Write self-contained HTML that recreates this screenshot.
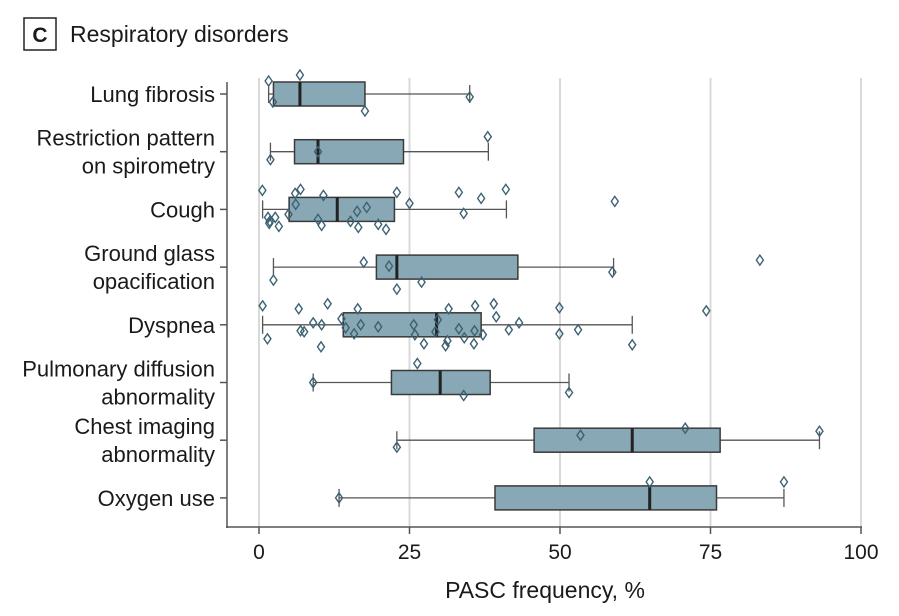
<!DOCTYPE html>
<html><head><meta charset="utf-8"><style>
body{margin:0;background:#fff;font-family:"Liberation Sans",sans-serif}
svg text{font-family:"Liberation Sans",sans-serif;fill:#1a1a1a}
</style></head><body>
<svg width="899" height="611" viewBox="0 0 899 611">
<rect x="24" y="18" width="32" height="32" fill="none" stroke="#222" stroke-width="1.5"/>
<text x="40" y="42" font-size="21" font-weight="bold" text-anchor="middle">C</text>
<text x="70" y="42" font-size="23">Respiratory disorders</text>
<g id="grid"></g><g id="axes"></g><g id="plot"></g>
<text x="545" y="598" font-size="23" text-anchor="middle">PASC frequency, %</text>
</svg>
<script>
const categories=[["Lung fibrosis"],["Restriction pattern","on spirometry"],["Cough"],["Ground glass","opacification"],["Dyspnea"],["Pulmonary diffusion","abnormality"],["Chest imaging","abnormality"],["Oxygen use"]];
const whiskerLow=[1.6,1.9,0.6,2.4,0.6,9.0,22.9,13.3];
const q1=[2.4,5.9,5.0,19.5,14.0,22.0,45.7,39.2];
const medians=[6.8,9.8,13.0,22.9,29.5,30.1,62.0,64.9];
const q3=[17.6,24.0,22.5,43.0,36.9,38.4,76.6,76.0];
const whiskerHigh=[35,38.1,41.1,58.9,62.0,51.5,93.1,87.2];
const points=[
[[1.6,-13],[6.8,-19],[2.3,8],[17.6,17],[35,3]],
[[38,-15],[1.9,8],[9.8,0]],
[[0.56,-19],[6.0,-16],[6.9,-20],[10.7,-14],[22.9,-17],[33.2,-17],[36.9,-11],[41.0,-20],[59.1,-8],[6.1,-5],[25.0,-6],[17.9,-2],[16.3,2],[34.0,4],[4.9,5],[1.5,8],[2.7,8],[1.7,14],[3.3,17],[9.8,10],[10.4,16],[15.2,12],[16.5,18],[19.8,15],[21.1,20],[1.8,12]],
[[17.4,-5],[21.6,-1],[58.7,5],[2.4,13],[27.0,15],[22.9,22],[83.2,-7]],
[[0.6,-19],[6.6,-16],[11.4,-21],[16.4,-16],[31.5,-16],[35.9,-19],[39.0,-21],[39.4,-8],[49.9,-17],[74.3,-14],[13.7,-6],[9.0,-2],[10.4,0],[16.9,0],[19.8,2],[25.7,0],[29.7,-5],[43.2,-2],[14.4,3],[6.9,6],[7.5,7],[15.8,9],[25.9,10],[29.3,7],[33.2,4],[35.8,6],[37.2,10],[34.1,13],[31.3,16],[31.0,21],[27.4,19],[35.7,19],[41.5,5],[49.9,9],[53.0,5],[62.0,20],[1.4,14],[10.3,22]],
[[9.0,0],[26.3,-19],[34.0,13],[51.5,10]],
[[22.9,7],[53.4,-5],[70.8,-12],[93.1,-9]],
[[13.3,0],[64.9,-16],[87.2,-16]]];
const xTicks=[0,25,50,75,100];
const X=v=>259+v*6.02;
const Y=i=>94+i*57.7;
const NS="http://www.w3.org/2000/svg";
function mk(parent,tag,attrs){const e=document.createElementNS(NS,tag);for(const k in attrs)e.setAttribute(k,attrs[k]);document.getElementById(parent).appendChild(e);return e;}
xTicks.forEach(t=>{
 const g=mk('grid','line',{x1:X(t),x2:X(t),y1:78,y2:527,stroke:'#d9d9d9','stroke-width':2});
 
 
 const tk=mk('axes','line',{x1:X(t),x2:X(t),y1:527,y2:534,stroke:'#555','stroke-width':1.5});
 
 
 const lb=mk('axes','text',{x:X(t),y:559,'font-size':21,'text-anchor':'middle'});lb.textContent=t;
 
 
});
const ax=mk('axes','line',{x1:227,x2:227,y1:82,y2:528,stroke:'#555','stroke-width':1.5});


const xa=mk('axes','line',{x1:226,x2:862,y1:527,y2:527,stroke:'#555','stroke-width':1.5});


categories.forEach((c,i)=>{
 const y=Y(i);
 const tk=mk('axes','line',{x1:220,x2:227,y1:y,y2:y,stroke:'#555','stroke-width':1.5});
 
 
 c.forEach((l,j)=>{const t=mk('axes','text',{x:215,y:y+8+(j-(c.length-1)/2)*28,'font-size':22,'text-anchor':'end'});t.textContent=l;
 
 });
 const w=mk('plot','line',{x1:X(whiskerLow[i]),x2:X(whiskerHigh[i]),y1:y,y2:y,stroke:'#555','stroke-width':1.3});
 
 
 [whiskerLow[i],whiskerHigh[i]].forEach(v=>{const cap=mk('plot','line',{x1:X(v),x2:X(v),y1:y-9,y2:y+9,stroke:'#555','stroke-width':1.3});
 
 });
 const b=mk('plot','rect',{x:X(q1[i]),y:y-12,width:X(q3[i])-X(q1[i]),height:24,fill:'#87a8b4',stroke:'#3a3a3a','stroke-width':1.5});
 
 
 const m=mk('plot','line',{x1:X(medians[i]),x2:X(medians[i]),y1:y-12,y2:y+12,stroke:'#222','stroke-width':3});
 
 
 points[i].forEach(p=>{const px=X(p[0]),py=y+p[1];
  const d=mk('plot','polygon',{points:`${px},${py-5} ${px+3.5},${py} ${px},${py+5} ${px-3.5},${py}`,fill:'none',stroke:'#3d6273','stroke-width':1.4});
  
  });
});
</script>
</body></html>
